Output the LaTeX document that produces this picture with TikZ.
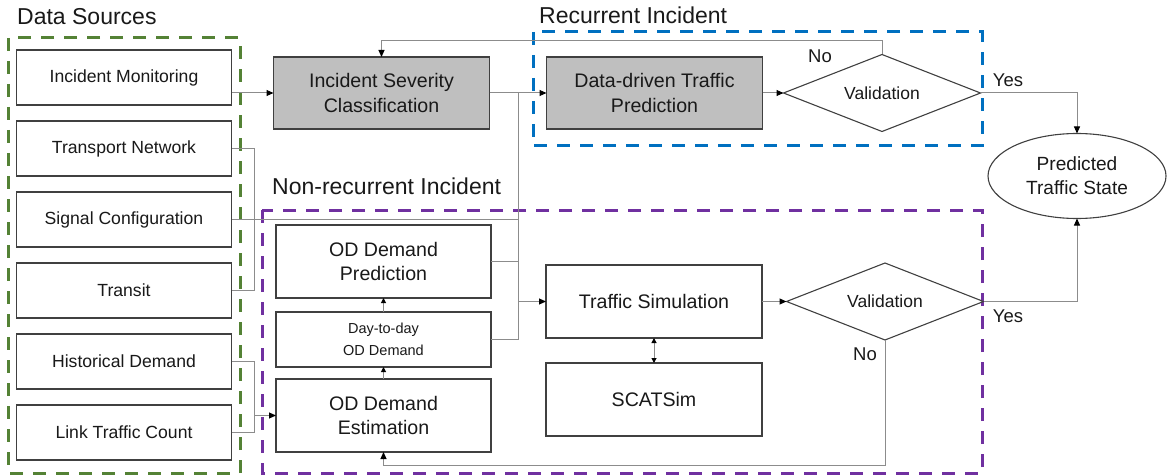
\documentclass[tikz,border=0pt]{standalone}
\usepackage{fontspec}
\setmainfont{Liberation Sans}
\usepackage{xcolor}
\usepackage{tikz}
\usetikzlibrary{shapes.geometric, arrows.meta, positioning, calc}
\definecolor{tsgreen}{RGB}{84,130,53}
\definecolor{tsblue}{RGB}{0,112,192}
\definecolor{tspurple}{RGB}{112,48,160}
\definecolor{tsedge}{RGB}{64,64,64}
\definecolor{tsfill}{RGB}{191,191,191}
\definecolor{tsline}{RGB}{140,140,140}
\definecolor{tstext}{RGB}{25,25,25}
\tikzset{
  source/.style    = {rectangle, draw=tsedge, line width=1.1pt, fill=white, text=tstext,
                      align=center, minimum width=215pt, minimum height=55pt,
                      font=\fontsize{17.6}{21}\selectfont, inner sep=2pt, outer sep=0pt},
  model/.style     = {rectangle, draw=tsedge, line width=1.1pt, fill=tsfill, text=tstext,
                      align=center, minimum width=216pt, minimum height=72pt,
                      font=\fontsize{19.6}{24.5}\selectfont, inner sep=2pt, outer sep=0pt},
  module/.style    = {rectangle, draw=tsedge, line width=1.1pt, fill=white, text=tstext,
                      align=center, minimum width=215pt, minimum height=73pt,
                      font=\fontsize{19.6}{24.5}\selectfont, inner sep=2pt, outer sep=0pt},
  check/.style     = {diamond, draw=tsedge, line width=1.1pt, fill=white, text=tstext,
                      aspect=2.5, minimum width=197pt, minimum height=77pt,
                      font=\fontsize{17.5}{21}\selectfont, inner sep=0pt, outer sep=0pt},
  outcome/.style   = {ellipse, draw=tsedge, line width=1.1pt, fill=white, text=tstext,
                      align=center, minimum width=178pt, minimum height=85pt,
                      font=\fontsize{19.1}{24}\selectfont, inner sep=0pt, outer sep=0pt},
  group/.style     = {line width=3pt, dash pattern=on 13pt off 10pt},
  grouplab/.style  = {anchor=base west, text=tstext, font=\fontsize{23}{27}\selectfont, inner sep=0pt},
  flowlab/.style   = {text=tstext, font=\fontsize{18.5}{22}\selectfont, inner sep=0pt},
  link/.style      = {line width=1pt, draw=tsline},
  flow/.style      = {link, -{Triangle[length=7pt, width=6pt, color=black]}},
  smallflow/.style = {link, -{Triangle[length=5pt, width=5pt, color=black]}},
  bothflow/.style  = {link, {Triangle[length=5pt, width=5pt, color=black]}-{Triangle[length=5pt, width=5pt, color=black]}},
}

\begin{document}
\begin{tikzpicture}[x=1pt, y=-1pt, node distance=16pt]
\useasboundingbox (0,0) rectangle (1167,476);

% ---------- Groups ----------
\draw[group, tsgreen] (8,38) rectangle (240,473);
\draw[group, tsblue] (533,32) rectangle (982,146);
\draw[group, tspurple] (262,210) rectangle (982,473);
\node[grouplab] (srclab) at (17,25) {Data Sources};
\node[grouplab] (reclab) at (539,24) {Recurrent Incident};
\node[grouplab] (nonlab) at (272,194) {Non-recurrent Incident};

% ---------- Data sources ----------
\node[source] (monitor) at (124,77.5) {Incident Monitoring};
\node[source, below=of monitor] (network) {Transport Network};
\node[source, below=of network] (signal) {Signal Configuration};
\node[source, below=of signal] (transit) {Transit};
\node[source, below=of transit] (history) {Historical Demand};
\node[source, below=of history] (count) {Link Traffic Count};

% ---------- Recurrent ----------
\node[model] (severity) at (381.5,93) {Incident Severity\\Classification};
\node[model, right=57pt of severity] (datadriven) {Data-driven Traffic\\Prediction};
\node[check] (valrec) at (882,93) {Validation};
\node[outcome] (state) at (1077,176) {Predicted\\Traffic State};

% ---------- Non-recurrent ----------
\node[module] (odpred) at (383.5,261.5) {OD Demand\\Prediction};
\node[source, below=14pt of odpred, font=\fontsize{14.5}{22}\selectfont] (daytoday) {Day-to-day\\OD Demand};
\node[module, below=12pt of daytoday] (odest) {OD Demand\\Estimation};
\node[module, minimum width=216pt] (simulation) at (654,301.5) {Traffic Simulation};
\node[module, minimum width=216pt, below=25pt of simulation] (scatsim) {SCATSim};
\node[check] (valnon) at (885,301.5) {Validation};

% ---------- Edges: recurrent ----------
\draw[flow] (severity.west -| monitor.east) -- (severity.west);
\draw[flow] (severity) -- (datadriven);
\draw[flow] (datadriven) -- (valrec);
\draw[flow] (valrec.east) -| (state.north);
\node[flowlab] (yesrec) at ($(valrec.east)+(27.5,-13)$) {Yes};
\draw[flow] (valrec.north) -- ++(0,-14) -| (severity.north);
\node[flowlab] (norec) at ($(valrec.north)+(-62,1.5)$) {No};

% ---------- Edges: inputs ----------
\coordinate (split) at ($(severity.east)!.5!(datadriven.west)$);
\draw[flow] (split) |- (simulation.west);
\draw[link] (signal.east) -- (signal.east -| split);
\coordinate (netjoin) at ($(transit.east)+(22.5,0)$);
\draw[link] (network.east) -| (netjoin) -- (transit.east);
\draw[link] (odpred.east) -- (odpred.east -| split);
\draw[link] (daytoday.east) -| (split |- simulation.west);
\coordinate (demjoin) at ($(odest.west)+(-22,0)$);
\draw[link] (history.east) -| (demjoin);
\draw[link] (count.east) -| (demjoin);
\draw[flow] (demjoin) -- (odest.west);

% ---------- Edges: non-recurrent ----------
\draw[smallflow] (odest) -- (daytoday);
\draw[smallflow] (daytoday) -- (odpred);
\draw[bothflow] (simulation) -- (scatsim);
\draw[flow] (simulation) -- (valnon);
\draw[flow] (valnon.east) -| (state.south);
\node[flowlab] (yesnon) at ($(valnon.east)+(24.5,14.5)$) {Yes};
\draw[flow] (valnon.south) -- ++(0,125) -| (odest.south);
\node[flowlab] (nonon) at ($(valnon.south)+(-20,14)$) {No};

\end{tikzpicture}
\end{document}
